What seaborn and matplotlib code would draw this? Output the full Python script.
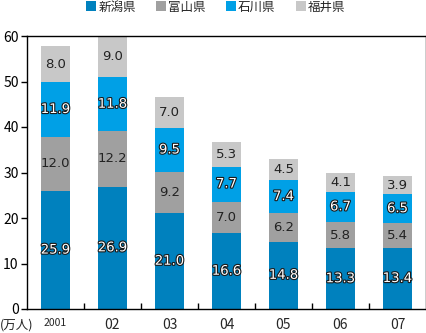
import numpy as np
import pandas as pd
import matplotlib
matplotlib.use("Agg")
import matplotlib.pyplot as plt
import matplotlib.patheffects as pe
from matplotlib.patches import Patch
import seaborn as sns

years = ["2001", "02", "03", "04", "05", "06", "07"]
series_names = ["新潟県", "富山県", "石川県", "福井県"]
niigata = [25.9, 26.9, 21.0, 16.6, 14.8, 13.3, 13.4]
toyama = [12.0, 12.2, 9.2, 7.0, 6.2, 5.8, 5.4]
ishikawa = [11.9, 11.8, 9.5, 7.7, 7.4, 6.7, 6.5]
fukui = [8.0, 9.0, 7.0, 5.3, 4.5, 4.1, 3.9]
colors = ["#0081BE", "#A0A0A0", "#00A0E6", "#C8C8C8"]
outlined = [True, False, True, False]

sns.set_style("white")
plt.rcParams["font.family"] = ["Noto Sans CJK JP", "DejaVu Sans"]

fig = plt.figure(figsize=(4.27, 3.33), dpi=100)
ax = fig.add_axes([27 / 427, 24 / 333, 399 / 427, 273 / 333])

all_series = [niigata, toyama, ishikawa, fukui]
bottom = np.zeros(len(years))
for name, vals, col, outl in zip(series_names, all_series, colors, outlined):
    df = pd.DataFrame({"year": years, "value": vals})
    sns.barplot(data=df, x="year", y="value", bottom=bottom, color=col,
                width=0.52, ax=ax, saturation=1, linewidth=0, errorbar=None)
    for i, v in enumerate(vals):
        yc = bottom[i] + v / 2
        if outl:
            ax.text(i, yc, f"{v:.1f}", ha="center", va="center", fontsize=9.5,
                    color="white", family="DejaVu Sans",
                    path_effects=[pe.withStroke(linewidth=1.6, foreground="#1a1a1a")])
        else:
            ax.text(i, yc, f"{v:.1f}", ha="center", va="center", fontsize=9.5,
                    color="#222222", family="DejaVu Sans")
    bottom = bottom + np.array(vals)

ax.set_xlim(-0.5, 6.5)
ax.set_ylim(0, 60)
ax.set_yticks(range(0, 61, 10))
ax.set_xlabel("")
ax.set_ylabel("")
for s in ax.spines.values():
    s.set_color("black")
    s.set_linewidth(1)

ax.tick_params(axis="y", direction="out", length=4, width=1, labelsize=10,
               left=True, pad=2, colors="black")
ax.tick_params(axis="x", bottom=False, labelsize=10, pad=3)
ax.set_xticks(range(len(years)))
ax.set_xticklabels(years)
ax.get_xticklabels()[0].set_fontsize(7.5)
ax.set_xticks(np.arange(0.5, 6.5, 1), minor=True)
ax.tick_params(axis="x", which="minor", direction="in", length=4, width=1,
               bottom=True, colors="black")

fig.text(0, 1 - 325 / 333, "(万人)", fontsize=9, va="center", ha="left")

handles = [Patch(facecolor=c, edgecolor="none") for c in colors]
fig.legend(handles, series_names, loc="center", bbox_to_anchor=(0.505, 1 - 7 / 333),
           ncol=4, frameon=False, fontsize=9, handlelength=0.8, handleheight=0.8,
           handletextpad=0.2, columnspacing=1.6, borderaxespad=0, borderpad=0)

fig.savefig("out.png", dpi=100)
